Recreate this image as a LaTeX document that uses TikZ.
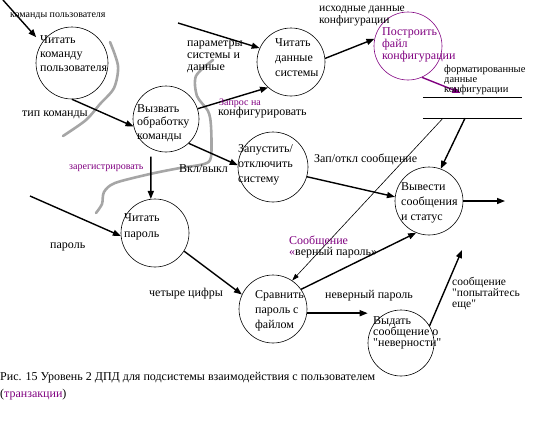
\documentclass[tikz,border=0pt]{standalone}
\usepackage{fontspec}
\setmainfont{Liberation Serif}
\usetikzlibrary{arrows.meta,calc}
\definecolor{plum}{HTML}{800080}
\definecolor{fence}{HTML}{A6A6A6}
\tikzset{
  proc/.style    ={circle,draw=black,line width=0.6pt,inner sep=0pt},
  ptext/.style   ={inner sep=0pt,anchor=west,align=left,font=\fontsize{12}{15}\selectfont},
  lbl/.style     ={inner sep=0pt,anchor=west,align=left,font=\fontsize{12}{12}\selectfont},
  smalllbl/.style={inner sep=0pt,anchor=west,align=left,font=\fontsize{10}{10}\selectfont},
  flow/.style    ={-{Triangle[length=8pt,width=6pt]},line width=1.4pt,draw=black},
  thinflow/.style={-{Triangle[length=7pt,width=4.5pt]},line width=0.6pt,draw=black},
  bound/.style   ={draw=fence,line width=2.6pt,line cap=round,line join=round}
}
\begin{document}
\begin{tikzpicture}[x=1pt,y=-1pt]
\useasboundingbox (0,0) rectangle (533,434);
% boundaries
\draw[bound] plot[smooth] coordinates {(110,42) (118,66) (114,88) (100,104) (86,120) (63,136)};
\draw[bound] plot[smooth] coordinates {(213,60) (196,76) (197,96) (208,111) (211,126) (211,157)
  (204,164) (180,168) (150,174) (115,183) (104,192) (102,204) (96,213)};
% processes
\node[proc,minimum size=72pt] (cmd) at (72,63) {};
\node[proc,minimum size=66pt] (callp) at (166,119) {};
\node[proc,minimum size=68pt] (rdsys) at (291,62) {};
\node[proc,draw=plum,minimum size=68pt] (build) at (408,46) {};
\node[proc,minimum size=70pt] (onoff) at (273,167) {};
\node[proc,minimum size=68pt] (outmsg) at (429,201) {};
\node[proc,minimum size=68pt] (rdpwd) at (155,233) {};
\node[proc,minimum size=68pt] (cmp) at (273,309) {};
\node[proc,minimum size=66pt] (badmsg) at (401,343) {};
\node[ptext,font=\fontsize{12}{14}\selectfont] (tcmd) at (40,54) {Читать\\команду\\пользователя};
\node[ptext,font=\fontsize{12}{13.5}\selectfont] (tcallp) at (137,123) {Вызвать\\обработку\\команды};
\node[ptext] (trdsys) at (275,58) {Читать\\данные\\системы};
\node[ptext,text=plum,font=\fontsize{12}{12}\selectfont] (tbuild) at (382,45) {Построить\\файл\\конфигурации};
\node[ptext] (tonoff) at (238,165) {Запустить/\\отключить\\систему};
\node[ptext] (toutmsg) at (401,203) {Вывести\\сообщения\\и статус};
\node[ptext,font=\fontsize{12}{16}\selectfont] (trdpwd) at (124,227) {Читать\\пароль};
\node[ptext] (tcmp) at (255,311) {Сравнить\\пароль с\\файлом};
\node[ptext,font=\fontsize{12}{11}\selectfont] (tbadmsg) at (373,333) {Выдать\\сообщение о\\\textquotedbl неверности\textquotedbl};
% data store
\node[minimum width=99pt,minimum height=20pt,inner sep=0pt] (store) at (472.5,108) {};
\draw[line width=0.8pt] (store.north west) -- (store.north east);
\draw[line width=0.8pt] (store.south west) -- (store.south east);
% free ends
\coordinate (cmdin) at (3,0);
\coordinate (parin) at (178,23);
\coordinate (pwdin) at (30,196);
\coordinate (msgout) at (505,201);
\coordinate (retry) at (462,250);
% flows
\draw[flow,shorten >=8pt] (cmdin) -- (cmd.147);
\draw[flow] (cmd.south) -- (callp.193);
\draw[flow] (parin) -- (rdsys.156);
\draw[flow] (callp.18) -- (rdsys.228);
\draw[flow] (rdsys.6) -- (build.168);
\draw[flow,draw=plum] (build.294) -- ([xshift=-12pt,yshift=5pt]store.north);
\draw[flow] ([xshift=-7.5pt]store.south) -- (outmsg.70);
\draw[thinflow] ([xshift=-29.5pt]store.south) -- (cmp.56);
\draw[flow] (callp.313) -- (onoff.177);
\draw[flow] (onoff.344) -- (outmsg.173);
\draw[flow] (outmsg.east) -- (msgout);
\draw[flow,shorten <=8pt] (callp.243) -- (rdpwd.97);
\draw[flow] (pwdin) -- (rdpwd.185);
\draw[flow] (rdpwd.328) -- (cmp.155);
\draw[flow] (cmp.35) -- (outmsg.248);
\draw[flow] (cmp.-7) -- (cmp.-7 -| badmsg.west);
\draw[flow] (badmsg.31) -- (retry);
% labels
\node[smalllbl] (lcmd) at (10,16) {команды пользователя};
\node[lbl] (ltype) at (22,115) {тип команды};
\node[lbl] (lpar) at (187,57) {параметры\\системы и\\данные};
\node[smalllbl,text=plum] (lreq) at (219,103) {Запрос на};
\node[lbl] (lconf) at (218,113) {конфигурировать};
\node[lbl,font=\fontsize{11.5}{12}\selectfont] (lsrc) at (319,16) {исходные данные\\конфигурации};
\node[lbl,font=\fontsize{10.5}{10}\selectfont] (lfmt) at (444,80) {форматированные\\данные\\конфигурации};
\node[lbl] (lonoff) at (179,169) {Вкл/выкл};
\node[lbl] (lmsg) at (314,159) {Зап/откл сообщение};
\node[smalllbl,text=plum] (lreg) at (69,168) {зарегистрировать};
\node[lbl] (lpwd) at (50,247) {пароль};
\node[lbl] (ldig) at (149,294) {четыре цифры};
\node[lbl,font=\fontsize{12}{11}\selectfont] (lok) at (289,246.5) {\textcolor{plum}{Сообщение}\\\textcolor{plum}{«}верный пароль»};
\node[lbl] (lbad) at (325,296) {неверный пароль};
\node[lbl,font=\fontsize{11.5}{11}\selectfont] (lretry) at (452,294) {сообщение\\\textquotedbl попытайтесь\\еще\textquotedbl};
% caption
\node[lbl,font=\fontsize{12}{17}\selectfont] (cap) at (0,386.5) {Рис. 15 Уровень 2 ДПД для подсистемы взаимодействия с пользователем\\(\textcolor{plum}{транзакции})};
\end{tikzpicture}
\end{document}
